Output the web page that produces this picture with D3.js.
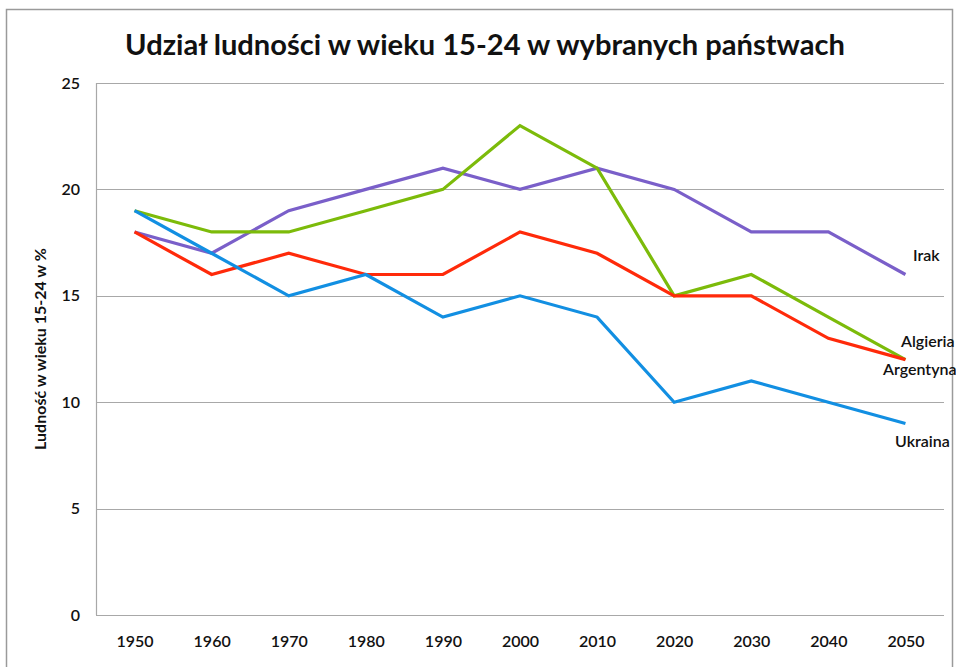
<!DOCTYPE html>
<html>
<head>
<meta charset="utf-8">
<script src="https://cdn.jsdelivr.net/npm/d3@7"></script>
<style>
  body { margin: 0; background: #fff; }
  text { font-family: Lato, "Open Sans", sans-serif; fill: #111; }
</style>
</head>
<body>
<svg id="chart" width="956" height="667"></svg>
<script>
const years = ["1950","1960","1970","1980","1990","2000","2010","2020","2030","2040","2050"];
const irak      = [18, 17, 19, 20, 21, 20, 21, 20, 18, 18, 16];
const algieria  = [19, 18, 18, 19, 20, 23, 21, 15, 16, 14, 12];
const argentyna = [18, 16, 17, 16, 16, 18, 17, 15, 15, 13, 12];
const ukraina   = [19, 17, 15, 16, 14, 15, 14, 10, 11, 10, 9];
const yTicks = [0, 5, 10, 15, 20, 25];
const seriesNames = ["Irak", "Algieria", "Argentyna", "Ukraina"];
const title = "Udział ludności w wieku 15-24 w wybranych państwach";
const yTitle = "Ludność w wieku 15-24 w %";

const series = [
  {name: "Irak", values: irak, color: "#7a5fc9", lx: 913, ly: 255},
  {name: "Algieria", values: algieria, color: "#7cbb0a", lx: 901, ly: 341},
  {name: "Argentyna", values: argentyna, color: "#ff2a0a", lx: 883, ly: 369},
  {name: "Ukraina", values: ukraina, color: "#128fe2", lx: 895, ly: 441}
];

const svg = d3.select("#chart");
const m = {left: 96, right: 944, top: 83, bottom: 615};

// outer frame
svg.append("rect").attr("x", 6.5).attr("y", 9.5).attr("width", 946).attr("height", 680)
  .attr("fill", "none").attr("stroke", "#9a9a9a").attr("stroke-width", 1.5);

const x = d3.scalePoint().domain(years).range([m.left, m.right]).padding(0.5);
const y = d3.scaleLinear().domain([0, 25]).range([m.bottom, m.top]);

// gridlines
svg.append("g").selectAll("line").data(yTicks).join("line")
  .attr("x1", m.left).attr("x2", m.right)
  .attr("y1", d => Math.round(y(d)) + 0.5).attr("y2", d => Math.round(y(d)) + 0.5)
  .attr("stroke", "#a8a8a8").attr("stroke-width", 1.2);

// left axis line
svg.append("line").attr("x1", m.left + 0.5).attr("x2", m.left + 0.5)
  .attr("y1", m.top).attr("y2", m.bottom)
  .attr("stroke", "#a8a8a8").attr("stroke-width", 1.2);

// y axis labels
const yAxis = d3.axisLeft(y).tickValues(yTicks).tickSize(0).tickPadding(0);
const gy = svg.append("g").attr("transform", `translate(80,0)`).call(yAxis);
gy.select(".domain").remove();
gy.selectAll("text").style("font-family", "Lato, sans-serif").style("font-size", "16px")
  .style("font-weight", "600").attr("fill", "#111");

// x axis labels
const xAxis = d3.axisBottom(x).tickSize(0).tickPadding(0);
const gx = svg.append("g").attr("transform", `translate(0,636)`).call(xAxis);
gx.select(".domain").remove();
gx.selectAll("text").style("font-family", "Lato, sans-serif").style("font-size", "16px")
  .style("font-weight", "600").attr("fill", "#111");

// lines
const line = d3.line().x((d, i) => x(years[i])).y(d => y(d));
svg.append("g").selectAll("path").data(series).join("path")
  .attr("d", d => line(d.values))
  .attr("fill", "none").attr("stroke", d => d.color).attr("stroke-width", 3.2)
  .attr("stroke-linejoin", "miter");

// end labels
svg.append("g").selectAll("text").data(series).join("text")
  .attr("x", d => d.lx).attr("y", d => d.ly).attr("dy", "0.35em")
  .style("font-size", "16px").style("font-weight", "600")
  .text(d => d.name);

// title
const t = svg.append("text").attr("x", 485).attr("y", 55).attr("text-anchor", "middle")
  .style("font-size", "30px").style("font-weight", "bold").text(title);
const w = t.node().getComputedTextLength();
t.style("font-size", (30 * 720 / w).toFixed(1) + "px");

// y title
const yt = svg.append("text").attr("transform", "translate(46,349) rotate(-90)")
  .attr("text-anchor", "middle")
  .style("font-size", "14px").style("font-weight", "bold").text(yTitle);
const wy = yt.node().getComputedTextLength();
yt.style("font-size", (14 * 202 / wy).toFixed(1) + "px");
</script>
</body>
</html>
